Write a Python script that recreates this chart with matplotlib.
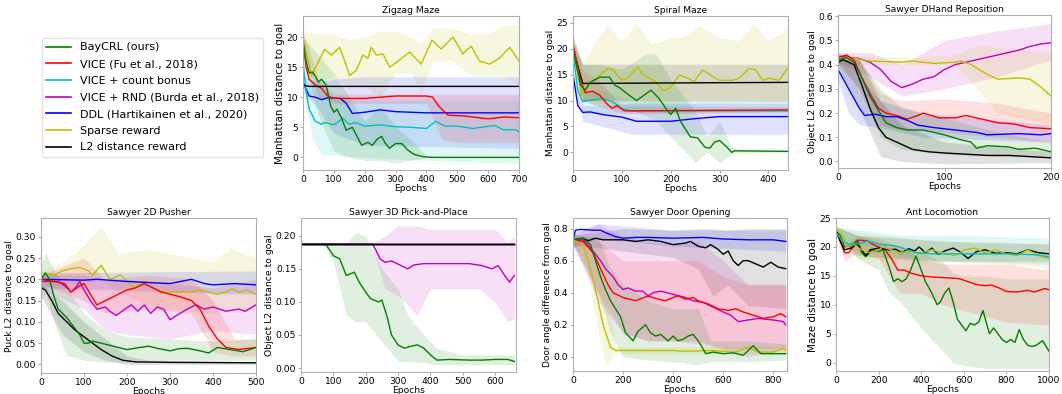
import matplotlib
matplotlib.use("Agg")
import matplotlib.pyplot as plt
from matplotlib.lines import Line2D

# --- colours / labels ---
methods = ["BayCRL (ours)", "VICE (Fu et al., 2018)", "VICE + count bonus",
           "VICE + RND (Burda et al., 2018)", "DDL (Hartikainen et al., 2020)",
           "Sparse reward", "L2 distance reward"]
colors = ["g", "r", "c", "m", "b", "y", "k"]

# --- Zigzag Maze ---
zz_bay_x = [0,10,20,30,40,50,60,75,90,100,110,125,140,160,175,190,210,225,240,255,265,280,300,320,340,360,390,420,700]
zz_bay_y = [19,16,14,14.2,13.5,12.5,13,12,8.5,7.5,8,6.5,4.5,5,3.5,2,2.5,2,3,3.5,2.5,1.5,2.3,2.3,1.2,0.5,0.1,0,0]
zz_bay_bx = [0,50,100,150,200,250,300,350,400,700]
zz_bay_lo = [17,7,1,0,-0.5,-0.5,-1,-0.5,0,0]
zz_bay_hi = [20,17,14,10,6,8.5,5,3,0.2,0]
zz_red_x = [0,10,20,40,60,80,100,200,300,400,420,440,470,520,600,650,700]
zz_red_y = [19.5,15,13,12,11.5,10.2,9.8,9.8,10.2,10.2,10,8.5,7,6.9,6.4,6.7,6.6]
zz_red_bx = [0,50,100,400,450,500,700]
zz_red_lo = [18,10,9,9,3,2.5,2.5]
zz_red_hi = [21,13,10.5,10.5,10.5,10.5,10.5]
zz_cyan_x = [0,10,20,40,60,70,100,130,150,170,200,250,300,350,400,430,460,500,550,620,650,690,700]
zz_cyan_y = [16,11,8,6,5.5,5.8,5.4,6.5,5.5,5.8,5.2,5.4,5.1,5.0,4.8,6.0,5.2,5.2,4.8,5.3,4.6,4.6,4.2]
zz_cyan_bx = [0,30,60,100,200,400,700]
zz_cyan_lo = [12,3,0.5,0.3,0,-0.5,-1]
zz_cyan_hi = [20,14,12,10,9.5,9.5,9.5]
zz_blue_x = [0,20,40,60,80,120,140,160,200,250,300,400,700]
zz_blue_y = [12.5,10.2,10,9.6,9.9,9.8,9,7.3,7.5,7.9,7.6,7.4,7.4]
zz_blue_bx = [0,50,100,200,700]
zz_blue_lo = [11,8,4,2,1.5]
zz_blue_hi = [13.5,12.5,13,13.4,13.4]
zz_yel_x = [0,27,70,92,119,135,151,173,194,211,221,238,259,281,308,346,383,418,448,486,518,545,572,605,637,670,700]
zz_yel_y = [20,13.5,18,17,18.3,16,13.6,14.5,17,16.5,18.3,17,17.2,15,16,17.5,15.5,19.5,18,20,17.2,18.5,16,15.5,16.5,18.3,16]
zz_yel_bx = [0,50,100,150,200,250,300,350,383,420,480,550,600,650,700]
zz_yel_lo = [18,12.5,13.5,11.5,12,10,14,14,10.5,16,16,13.5,13.5,13.5,12]
zz_yel_hi = [21,20.5,20.5,19.5,20,21,21,20,19,21.5,21.5,20.5,20.5,22,22]
zz_blk_x = [0,20,700]
zz_blk_y = [12,11.8,11.8]

# --- Spiral Maze ---
sp_bay_x = [0,15,25,35,55,75,85,95,115,130,145,160,175,190,200,210,220,240,255,270,280,290,300,315,325,330,440]
sp_bay_y = [20,13,12,13.5,14.5,14.5,13,12.5,11,10,11,12,10.5,8.5,7.3,8.5,6,3,2.8,1,0.8,2,2.3,1,0,0.3,0.2]
sp_bay_bx = [0,20,50,100,150,170,200,250,275,300,325,340,440]
sp_bay_lo = [18,10,9,9,7,6,3,-2,0,-2,-0.3,0,0]
sp_bay_hi = [22,17,17,16,19,19,14,8,3,6,1,0.5,0.4]
sp_red_x = [0,15,25,40,55,70,80,90,105,440]
sp_red_y = [21,14,11.5,11.8,11,9.3,8.5,9,8,8.2]
sp_red_bx = [0,20,50,100,440]
sp_red_lo = [19,10,9,7.5,7.8]
sp_red_hi = [23,16,14,9,8.8]
sp_cyan_x = [0,10,20,30,50,60,80,100,120,440]
sp_cyan_y = [19,12,9.8,10,10.2,10.4,9.8,8.5,8,8]
sp_cyan_bx = [0,20,60,120,440]
sp_cyan_lo = [17,7.5,7.5,7.5,7.5]
sp_cyan_hi = [21,12,12,10,10]
sp_blue_x = [0,10,20,35,60,100,130,200,250,300,440]
sp_blue_y = [15,9,7.7,7.8,7.3,6.8,6,6,6.5,6.9,6.9]
sp_blue_bx = [0,20,60,120,440]
sp_blue_lo = [14,6,5,3.5,3.5]
sp_blue_hi = [16,9,9,9.5,9.5]
sp_yel_x = [0,17,31,51,71,82,99,112,133,143,156,170,184,197,218,235,248,265,286,299,327,340,361,374,388,401,422,439]
sp_yel_y = [21,11,13,14.6,16.2,15.9,13.9,14.3,16.5,14.9,14.3,13.6,11.9,12.3,14.9,14.3,13.6,15.9,14.6,13.9,13.9,14.3,16.2,15.9,13.9,14.3,13.9,16.2]
sp_yel_bx = [0,20,50,70,100,130,160,200,230,260,300,340,370,400,440]
sp_yel_lo = [19,10,10,10.5,10,10,10,10,10,10,10,10,10,10,10]
sp_yel_hi = [22,17,22,24.5,21.5,25,21,22,22.5,24.5,22,21.5,25,21.5,24]
sp_blk_x = [0,20,440]
sp_blk_y = [20,13.3,13.5]
sp_blk_lo = [19,10,9.8]
sp_blk_hi = [21,17,17]

# --- Sawyer DHand Reposition ---
dh_mag_x = [0,20,30,40,50,60,70,80,90,100,110,120,130,140,150,160,170,180,190,200]
dh_mag_y = [0.435,0.425,0.41,0.38,0.33,0.305,0.32,0.34,0.35,0.38,0.4,0.41,0.42,0.43,0.44,0.45,0.46,0.475,0.485,0.49]
dh_mag_bx = [0,30,60,100,150,200]
dh_mag_lo = [0.41,0.35,0.27,0.3,0.35,0.42]
dh_mag_hi = [0.45,0.45,0.4,0.5,0.54,0.57]
dh_yel_x = [0,10,30,60,70,90,110,115,125,140,150,170,180,190,200]
dh_yel_y = [0.42,0.43,0.415,0.41,0.415,0.405,0.41,0.415,0.4,0.36,0.34,0.345,0.34,0.31,0.27]
dh_yel_bx = [0,60,110,130,150,200]
dh_yel_lo = [0.4,0.4,0.4,0.3,0.2,0.15]
dh_yel_hi = [0.44,0.43,0.44,0.48,0.47,0.45]
dh_red_x = [0,8,15,22,30,38,45,55,65,75,80,95,110,120,140,150,165,180,200]
dh_red_y = [0.43,0.44,0.42,0.35,0.28,0.22,0.2,0.19,0.175,0.19,0.2,0.18,0.18,0.19,0.17,0.16,0.155,0.14,0.135]
dh_red_bx = [0,20,40,60,100,150,200]
dh_red_lo = [0.41,0.3,0.15,0.13,0.12,0.1,0.08]
dh_red_hi = [0.45,0.42,0.28,0.25,0.26,0.24,0.2]
dh_blue_x = [0,10,20,25,35,45,55,65,75,90,110,130,140,170,190,200]
dh_blue_y = [0.38,0.3,0.22,0.19,0.195,0.185,0.185,0.17,0.15,0.14,0.13,0.12,0.11,0.115,0.11,0.115]
dh_blue_bx = [0,10,20,40,80,200]
dh_blue_lo = [0.33,0.2,0.15,0.14,0.1,0.08]
dh_blue_hi = [0.43,0.42,0.35,0.25,0.2,0.15]
dh_bay_x = [0,8,15,22,30,38,45,55,65,80,90,100,115,125,130,140,160,170,185,200]
dh_bay_y = [0.42,0.43,0.41,0.35,0.27,0.21,0.16,0.14,0.13,0.13,0.12,0.11,0.09,0.08,0.055,0.065,0.06,0.05,0.055,0.04]
dh_bay_bx = [0,20,40,60,100,150,200]
dh_bay_lo = [0.4,0.3,0.1,0.05,0.03,0.02,0.02]
dh_bay_hi = [0.44,0.42,0.3,0.22,0.18,0.12,0.08]
dh_blk_x = [0,5,15,22,30,38,45,55,70,85,100,120,140,160,180,200]
dh_blk_y = [0.41,0.42,0.4,0.32,0.22,0.14,0.1,0.08,0.05,0.04,0.035,0.03,0.025,0.025,0.02,0.015]
dh_blk_bx = [0,20,40,60,100,200]
dh_blk_lo = [0.39,0.22,0.02,0,-0.01,-0.005]
dh_blk_hi = [0.43,0.42,0.25,0.15,0.08,0.04]

# --- Sawyer 2D Pusher ---
pu_yel_x = [0,10,30,50,70,90,110,120,140,160,185,200,215,230,250,270,290,320,350,370,390,410,430,445,460,480,500]
pu_yel_y = [0.2,0.215,0.21,0.22,0.225,0.228,0.22,0.21,0.233,0.2,0.21,0.195,0.18,0.19,0.185,0.175,0.17,0.17,0.17,0.175,0.17,0.165,0.17,0.178,0.17,0.175,0.165]
pu_yel_bx = [0,50,100,140,180,250,300,400,440,500]
pu_yel_lo = [0.18,0.19,0.19,0.2,0.17,0.14,0.13,0.12,0.13,0.13]
pu_yel_hi = [0.22,0.24,0.28,0.325,0.26,0.27,0.26,0.24,0.275,0.25]
pu_blue_x = [0,100,130,200,300,350,380,400,450,500]
pu_blue_y = [0.2,0.198,0.2,0.195,0.19,0.2,0.19,0.187,0.19,0.187]
pu_blue_bx = [0,500]
pu_blue_lo = [0.18,0.165]
pu_blue_hi = [0.215,0.22]
pu_mag_x = [0,40,55,70,80,90,100,115,130,150,160,175,195,210,225,240,255,270,285,300,315,340,360,380,400,430,460,475,500]
pu_mag_y = [0.195,0.195,0.185,0.17,0.18,0.195,0.175,0.15,0.13,0.135,0.125,0.115,0.13,0.14,0.125,0.14,0.12,0.135,0.13,0.105,0.115,0.13,0.14,0.13,0.135,0.125,0.13,0.125,0.14]
pu_mag_bx = [0,100,150,200,300,400,500]
pu_mag_lo = [0.18,0.13,0.08,0.07,0.06,0.08,0.07]
pu_mag_hi = [0.21,0.21,0.2,0.2,0.19,0.18,0.2]
pu_red_x = [0,30,55,70,90,100,115,130,150,170,200,220,240,260,280,320,350,370,390,410,430,460,500]
pu_red_y = [0.2,0.195,0.19,0.17,0.185,0.19,0.165,0.14,0.15,0.16,0.175,0.18,0.19,0.18,0.17,0.16,0.15,0.13,0.09,0.06,0.04,0.035,0.04]
pu_red_bx = [0,100,150,250,350,400,450,500]
pu_red_lo = [0.19,0.15,0.12,0.13,0.12,0.03,0.02,0.02]
pu_red_hi = [0.21,0.25,0.2,0.21,0.2,0.15,0.06,0.06]
pu_bay_x = [0,10,20,30,40,60,75,90,100,110,120,140,160,180,200,230,250,270,300,320,340,370,390,410,440,470,500]
pu_bay_y = [0.2,0.215,0.2,0.16,0.13,0.11,0.09,0.07,0.05,0.05,0.055,0.05,0.045,0.04,0.035,0.04,0.043,0.038,0.032,0.037,0.038,0.032,0.027,0.04,0.035,0.03,0.04]
pu_bay_bx = [0,10,30,60,100,150,200,300,400,500]
pu_bay_lo = [0.15,0.17,0.1,0.02,0.01,0.005,0.005,0.01,0.01,0.01]
pu_bay_hi = [0.23,0.265,0.22,0.18,0.12,0.08,0.065,0.06,0.055,0.06]
pu_blk_x = [0,10,25,40,60,80,100,120,140,165,190,220,300,500]
pu_blk_y = [0.18,0.175,0.15,0.12,0.1,0.08,0.065,0.05,0.035,0.02,0.01,0.006,0.005,0.004]
pu_blk_bx = [0,50,100,150,200,250,500]
pu_blk_lo = [0.16,0.07,0.03,0.01,0,0,0]
pu_blk_hi = [0.19,0.15,0.1,0.06,0.02,0.01,0.006]

# --- Sawyer 3D Pick-and-Place ---
pp_flat_x = [0,660]
pp_flat_y = [0.188,0.188]
pp_mag_x = [0,220,230,245,260,280,310,330,350,380,450,520,560,590,610,630,645,660]
pp_mag_y = [0.188,0.188,0.18,0.165,0.16,0.162,0.155,0.15,0.156,0.158,0.158,0.158,0.155,0.15,0.155,0.14,0.13,0.14]
pp_mag_bx = [0,220,260,300,360,400,550,600,640,660]
pp_mag_lo = [0.186,0.186,0.12,0.11,0.08,0.12,0.12,0.1,0.07,0.075]
pp_mag_hi = [0.19,0.19,0.2,0.215,0.215,0.21,0.21,0.21,0.19,0.2]
pp_bay_x = [0,70,80,100,120,140,165,180,200,215,240,250,265,280,300,320,340,360,380,400,420,460,520,560,600,640,660]
pp_bay_y = [0.188,0.188,0.185,0.17,0.165,0.14,0.145,0.13,0.115,0.105,0.1,0.103,0.08,0.05,0.035,0.03,0.033,0.035,0.03,0.02,0.012,0.013,0.012,0.012,0.013,0.013,0.01]
pp_bay_bx = [0,70,100,140,170,200,250,300,330,380,420,500,660]
pp_bay_lo = [0.186,0.186,0.16,0.08,0.07,0.07,0.04,0.01,0.01,0.008,0.005,0.005,0.005]
pp_bay_hi = [0.19,0.19,0.19,0.19,0.205,0.2,0.15,0.12,0.08,0.05,0.03,0.02,0.02]

# --- Sawyer Door Opening ---
dr_blue_x = [0,10,30,80,110,130,170,200,250,300,400,520,600,700,800,850]
dr_blue_y = [0.73,0.79,0.795,0.79,0.79,0.775,0.75,0.74,0.745,0.745,0.74,0.745,0.735,0.73,0.73,0.72]
dr_blue_bx = [0,100,400,850]
dr_blue_lo = [0.68,0.74,0.69,0.66]
dr_blue_hi = [0.78,0.83,0.79,0.79]
dr_blk_x = [0,40,60,90,120,200,250,300,350,400,450,470,500,530,550,580,600,620,640,660,680,700,730,760,790,820,850]
dr_blk_y = [0.73,0.74,0.725,0.74,0.73,0.73,0.72,0.73,0.72,0.7,0.71,0.72,0.69,0.68,0.7,0.67,0.64,0.66,0.6,0.57,0.6,0.6,0.58,0.56,0.59,0.56,0.55]
dr_blk_bx = [0,200,400,500,560,620,700,850]
dr_blk_lo = [0.7,0.66,0.62,0.55,0.38,0.45,0.32,0.3]
dr_blk_hi = [0.76,0.8,0.79,0.8,0.8,0.79,0.8,0.8]
dr_mag_x = [0,40,70,110,130,160,180,200,220,250,280,300,320,350,400,450,480,520,560,600,630,660,700,740,800,840,850]
dr_mag_y = [0.73,0.73,0.68,0.6,0.55,0.5,0.45,0.42,0.43,0.41,0.41,0.38,0.4,0.41,0.39,0.37,0.35,0.34,0.31,0.28,0.26,0.22,0.23,0.24,0.23,0.22,0.2]
dr_mag_bx = [0,100,200,300,400,500,600,700,850]
dr_mag_lo = [0.7,0.35,0.15,0.1,0.1,0.1,0.05,0.0,0.05]
dr_mag_hi = [0.76,0.83,0.75,0.72,0.7,0.72,0.6,0.45,0.45]
dr_red_x = [0,40,80,110,140,160,200,250,300,340,370,400,420,450,480,500,540,580,620,650,680,720,760,800,830,850]
dr_red_y = [0.73,0.72,0.65,0.55,0.45,0.4,0.37,0.35,0.38,0.36,0.35,0.37,0.38,0.36,0.37,0.35,0.33,0.3,0.29,0.3,0.28,0.26,0.24,0.25,0.27,0.25]
dr_red_bx = [0,100,200,300,400,500,600,700,850]
dr_red_lo = [0.7,0.4,0.15,0.1,0.1,0.08,0.05,0.05,0.05]
dr_red_hi = [0.76,0.72,0.6,0.6,0.6,0.6,0.5,0.45,0.45]
dr_bay_x = [0,40,70,90,110,130,150,170,190,210,240,260,290,310,330,350,380,400,420,440,460,480,500,520,530,560,600,640,680,720,750,800,850]
dr_bay_y = [0.73,0.74,0.7,0.6,0.5,0.42,0.35,0.3,0.25,0.15,0.1,0.16,0.2,0.15,0.13,0.14,0.1,0.13,0.1,0.11,0.13,0.14,0.1,0.05,0.02,0.03,0.02,0.025,0.01,0.07,0.02,0.02,0.02]
dr_bay_bx = [0,100,150,200,300,400,500,550,700,850]
dr_bay_lo = [0.7,0.4,0.15,0.0,-0.02,-0.03,-0.05,-0.03,-0.03,-0.02]
dr_bay_hi = [0.76,0.75,0.55,0.45,0.35,0.3,0.3,0.1,0.1,0.08]
dr_yel_x = [0,40,70,100,120,150,170,250,400,450,550,650,700,740,800,840,850]
dr_yel_y = [0.73,0.7,0.55,0.35,0.2,0.06,0.04,0.04,0.04,0.035,0.04,0.03,0.06,0.03,0.03,0.05,0.04]
dr_yel_bx = [0,50,100,130,170,200,850]
dr_yel_lo = [0.7,0.6,0.15,-0.05,0.02,0.02,0.02]
dr_yel_hi = [0.76,0.75,0.6,0.4,0.07,0.06,0.07]

# --- Ant Locomotion ---
an_blk_x = [0,20,40,70,100,120,140,160,200,250,280,310,340,370,390,420,450,480,510,550,580,620,660,700,750,800,850,900,950,1000]
an_blk_y = [23,21,19.5,19.8,20.5,19.5,18.5,19.5,19.8,19.5,19.6,19,19.7,19.3,20,19,19.8,18.7,19.3,19.8,19.2,18,19.2,19.5,18.9,19,18.8,19.5,19,18.8]
an_blk_bx = [0,100,500,1000]
an_blk_lo = [22,18.5,17.5,17.5]
an_blk_hi = [23.5,22,21,20.5]
an_yel_x = [0,30,50,80,120,160,200,220,260,300,350,400,420,450,500,560,600,650,700,750,800,850,900,950,1000]
an_yel_y = [23,22,20,20.5,19.5,19,19.5,20,19.5,19,19.3,18.8,19.2,19.5,19,18.5,19.5,19.8,19,19.5,18.8,18.5,19.5,18.5,18]
an_yel_bx = [0,100,500,1000]
an_yel_lo = [22,18,17.5,16.5]
an_yel_hi = [23.5,22.5,21,20.5]
an_cyan_x = [0,30,60,100,150,200,250,300,330,380,450,600,700,800,900,950,1000]
an_cyan_y = [22.5,21,20.5,20.5,21,20.5,20.3,20,19.5,19,18.8,18.8,18.8,18.8,18.7,18.6,18.3]
an_cyan_bx = [0,300,600,1000]
an_cyan_lo = [21.5,18.5,17.5,17]
an_cyan_hi = [23.5,22,22,21.5]
an_red_x = [0,20,40,60,80,110,150,170,200,230,260,290,320,350,400,450,500,550,580,620,660,700,730,760,800,850,900,930,980,1000]
an_red_y = [23,21,19,19,20,21.2,21,20.5,20,19.5,18,16,16,15.5,15,14.8,14.7,14.6,14.5,14,13.5,13.3,13.4,13,12.3,12.2,12.5,12.2,12.8,12.6]
an_red_bx = [0,40,100,200,300,400,500,600,700,800,1000]
an_red_lo = [22,17.5,19,18,12,12,10,9,8,7,6.5]
an_red_hi = [23.5,20.5,22,21.5,20,18,17,17,17,17,16]
an_bay_x = [0,20,40,70,100,120,140,170,200,220,250,270,290,310,330,350,375,390,420,450,475,490,510,530,550,570,590,610,630,650,670,690,705,720,740,760,780,800,820,840,860,880,900,920,940,970,1000]
an_bay_y = [23,22,20,20.2,21.2,19,18.3,19.5,19.2,19.5,16.5,14,14.5,14,14.5,16,18.4,17,14,12,10,10.5,12,12.9,10.5,7.5,6.5,5.5,6.8,6.5,7,9,7,5,6,5,4,3.5,4,3.5,5.7,4,3,2.8,3,3.8,2]
an_bay_bx = [0,100,200,250,300,400,500,550,600,700,800,1000]
an_bay_lo = [22,18,16,12,10.5,6,2,0,-0.5,-1,-1,-1]
an_bay_hi = [23.5,22,21,20,19.5,19,17.5,15.5,15,15,14.5,14.5]


def curve(ax, x, y, c, bx=None, lo=None, hi=None):
    if bx is not None:
        ax.fill_between(bx, lo, hi, color=c, alpha=0.12, lw=0)
    ax.plot(x, y, color=c, lw=1.0)


def style(ax, title, ylabel, xlim, ylim, xticks, yticks, yfmt=None, ylsize=6.6):
    ax.set_title(title, fontsize=6.6, pad=2)
    ax.set_xlabel("Epochs", fontsize=6.6, labelpad=0)
    ax.set_ylabel(ylabel, fontsize=ylsize, labelpad=1)
    ax.set_xlim(*xlim)
    ax.set_ylim(*ylim)
    ax.set_xticks(xticks)
    ax.set_yticks(yticks)
    if yfmt:
        ax.set_yticklabels([yfmt.format(v) for v in yticks])
    ax.tick_params(labelsize=6.6, length=2, width=0.6, color="#999999", pad=1.5)
    for s in ax.spines.values():
        s.set_color("#b0b0b0")
        s.set_linewidth(0.8)


W, H = 1062, 394
fig = plt.figure(figsize=(W / 100, H / 100), dpi=100)


def box(l, r, t, b):
    return [l / W, 1 - b / H, (r - l) / W, (b - t) / H]


# Zigzag
ax = fig.add_axes(box(303, 519, 16, 170))
curve(ax, zz_yel_x, zz_yel_y, "y", zz_yel_bx, zz_yel_lo, zz_yel_hi)
curve(ax, zz_blue_x, zz_blue_y, "b", zz_blue_bx, zz_blue_lo, zz_blue_hi)
curve(ax, zz_cyan_x, zz_cyan_y, "c", zz_cyan_bx, zz_cyan_lo, zz_cyan_hi)
curve(ax, zz_red_x, zz_red_y, "r", zz_red_bx, zz_red_lo, zz_red_hi)
curve(ax, zz_blk_x, zz_blk_y, "k")
curve(ax, zz_bay_x, zz_bay_y, "g", zz_bay_bx, zz_bay_lo, zz_bay_hi)
style(ax, "Zigzag Maze", "Manhattan distance to goal", (0, 700), (-2.1, 23.5),
      range(0, 701, 100), [0, 5, 10, 15, 20], ylsize=7.4)

# Spiral
ax = fig.add_axes(box(573, 788, 16, 170))
curve(ax, sp_yel_x, sp_yel_y, "y", sp_yel_bx, sp_yel_lo, sp_yel_hi)
curve(ax, sp_blk_x, sp_blk_y, "k", sp_blk_x, sp_blk_lo, sp_blk_hi)
curve(ax, sp_blue_x, sp_blue_y, "b", sp_blue_bx, sp_blue_lo, sp_blue_hi)
curve(ax, sp_cyan_x, sp_cyan_y, "c", sp_cyan_bx, sp_cyan_lo, sp_cyan_hi)
curve(ax, sp_red_x, sp_red_y, "r", sp_red_bx, sp_red_lo, sp_red_hi)
curve(ax, sp_bay_x, sp_bay_y, "g", sp_bay_bx, sp_bay_lo, sp_bay_hi)
style(ax, "Spiral Maze", "Manhattan distance to goal", (0, 440), (-3.4, 26.3),
      range(0, 401, 100), [0, 5, 10, 15, 20, 25], ylsize=6.6)

# DHand
ax = fig.add_axes(box(838, 1051, 15, 168))
curve(ax, dh_mag_x, dh_mag_y, "m", dh_mag_bx, dh_mag_lo, dh_mag_hi)
curve(ax, dh_yel_x, dh_yel_y, "y", dh_yel_bx, dh_yel_lo, dh_yel_hi)
curve(ax, dh_red_x, dh_red_y, "r", dh_red_bx, dh_red_lo, dh_red_hi)
curve(ax, dh_blue_x, dh_blue_y, "b", dh_blue_bx, dh_blue_lo, dh_blue_hi)
curve(ax, dh_bay_x, dh_bay_y, "g", dh_bay_bx, dh_bay_lo, dh_bay_hi)
curve(ax, dh_blk_x, dh_blk_y, "k", dh_blk_bx, dh_blk_lo, dh_blk_hi)
style(ax, "Sawyer DHand Reposition", "Object L2 Distance to goal", (0, 200), (-0.027, 0.605),
      [0, 100, 200], [0, 0.1, 0.2, 0.3, 0.4, 0.5, 0.6], "{:.1f}", ylsize=6.7)

# Pusher
ax = fig.add_axes(box(41, 256, 218, 373))
curve(ax, pu_yel_x, pu_yel_y, "y", pu_yel_bx, pu_yel_lo, pu_yel_hi)
curve(ax, pu_blue_x, pu_blue_y, "b", pu_blue_bx, pu_blue_lo, pu_blue_hi)
curve(ax, pu_mag_x, pu_mag_y, "m", pu_mag_bx, pu_mag_lo, pu_mag_hi)
curve(ax, pu_red_x, pu_red_y, "r", pu_red_bx, pu_red_lo, pu_red_hi)
curve(ax, pu_blk_x, pu_blk_y, "k", pu_blk_bx, pu_blk_lo, pu_blk_hi)
curve(ax, pu_bay_x, pu_bay_y, "g", pu_bay_bx, pu_bay_lo, pu_bay_hi)
style(ax, "Sawyer 2D Pusher", "Puck L2 distance to goal", (0, 500), (-0.02, 0.344),
      range(0, 501, 100), [0, 0.05, 0.1, 0.15, 0.2, 0.25, 0.3], "{:.2f}", ylsize=6.6)

# Pick-and-Place
ax = fig.add_axes(box(301, 516, 218, 372))
curve(ax, pp_mag_x, pp_mag_y, "m", pp_mag_bx, pp_mag_lo, pp_mag_hi)
curve(ax, pp_bay_x, pp_bay_y, "g", pp_bay_bx, pp_bay_lo, pp_bay_hi)
for c in ["y", "c", "r", "b", "k"]:
    curve(ax, pp_flat_x, pp_flat_y, c)
style(ax, "Sawyer 3D Pick-and-Place", "Object L2 distance to goal", (0, 665), (-0.006, 0.227),
      range(0, 601, 100), [0, 0.05, 0.1, 0.15, 0.2], "{:.2f}", ylsize=6.7)

# Door
ax = fig.add_axes(box(573, 787, 218, 371))
curve(ax, dr_blk_x, dr_blk_y, "k", dr_blk_bx, dr_blk_lo, dr_blk_hi)
curve(ax, dr_blue_x, dr_blue_y, "b", dr_blue_bx, dr_blue_lo, dr_blue_hi)
curve(ax, dr_mag_x, dr_mag_y, "m", dr_mag_bx, dr_mag_lo, dr_mag_hi)
curve(ax, dr_red_x, dr_red_y, "r", dr_red_bx, dr_red_lo, dr_red_hi)
curve(ax, dr_yel_x, dr_yel_y, "y", dr_yel_bx, dr_yel_lo, dr_yel_hi)
curve(ax, dr_bay_x, dr_bay_y, "g", dr_bay_bx, dr_bay_lo, dr_bay_hi)
style(ax, "Sawyer Door Opening", "Door angle difference from goal", (0, 855), (-0.088, 0.866),
      range(0, 801, 200), [0, 0.2, 0.4, 0.6, 0.8], "{:.1f}", ylsize=6.5)

# Ant
ax = fig.add_axes(box(836, 1049, 218, 371))
curve(ax, an_bay_x, an_bay_y, "g", an_bay_bx, an_bay_lo, an_bay_hi)
curve(ax, an_red_x, an_red_y, "r", an_red_bx, an_red_lo, an_red_hi)
curve(ax, an_blk_x, an_blk_y, "k", an_blk_bx, an_blk_lo, an_blk_hi)
curve(ax, an_yel_x, an_yel_y, "y", an_yel_bx, an_yel_lo, an_yel_hi)
curve(ax, an_cyan_x, an_cyan_y, "c", an_cyan_bx, an_cyan_lo, an_cyan_hi)
style(ax, "Ant Locomotion", "Maze distance to goal", (0, 1000), (-1.45, 25),
      range(0, 1001, 200), [0, 5, 10, 15, 20, 25], ylsize=7.5)

# legend in the empty top-left slot
handles = [Line2D([], [], color=c, lw=1.2) for c in colors]
fig.legend(handles, methods, loc="upper left", bbox_to_anchor=(42 / W, 1 - 38 / H),
           borderaxespad=0, fontsize=8, frameon=True, borderpad=0.4, labelspacing=0.6,
           handlelength=2.2, handletextpad=0.8, fancybox=True, edgecolor="#dddddd")

fig.savefig("out.png", dpi=100)
